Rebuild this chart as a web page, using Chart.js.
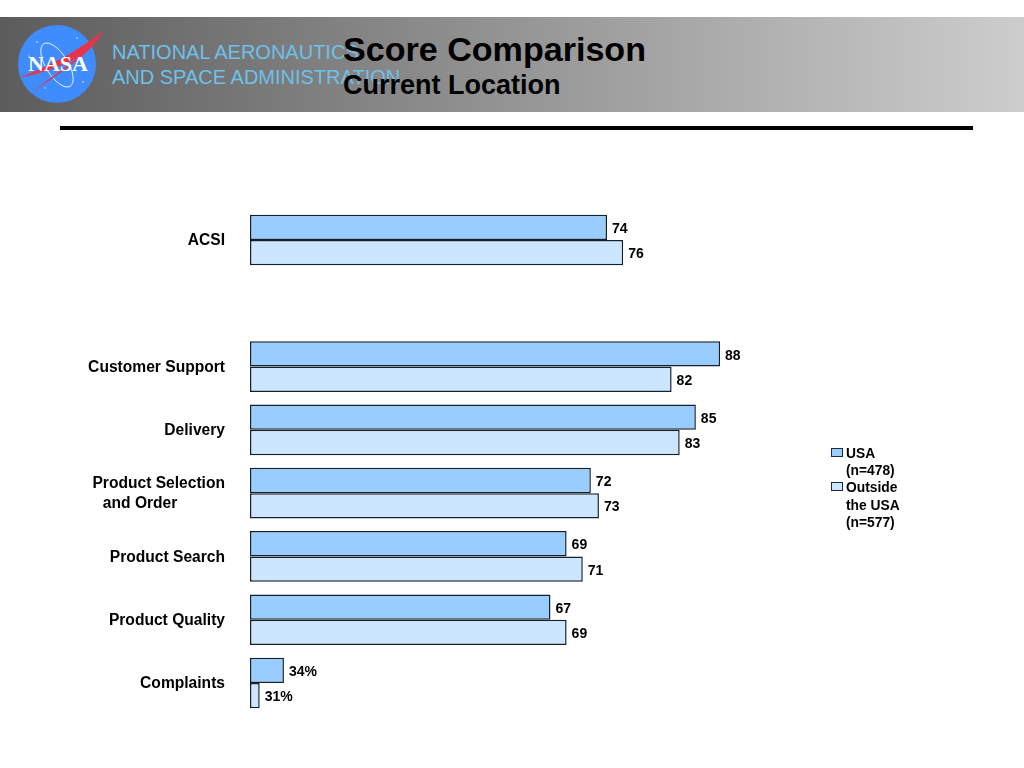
<!DOCTYPE html>
<html>
<head>
<meta charset="utf-8">
<title>Score Comparison</title>
<script src="https://cdn.jsdelivr.net/npm/chart.js@4/dist/chart.umd.min.js"></script>
<style>
  html, body { margin: 0; padding: 0; background: #fff; }
  body { width: 1024px; height: 768px; overflow: hidden; position: relative; font-family: "Liberation Sans", Arial, sans-serif; }
  #myChart { position: absolute; left: 0; top: 0; }
  .band { position: absolute; left: 0; top: 17px; width: 1024px; height: 95px; background: linear-gradient(to right, #5c5c5c 0%, #cdcdcd 100%); }
  .rule { position: absolute; left: 60px; top: 126px; width: 913px; height: 4px; background: #000; }
  .logo { position: absolute; left: 15px; top: 22px; }
  .org { position: absolute; left: 112px; color: #6fc0ea; font-size: 20px; line-height: 24px; white-space: nowrap; }
  .title { position: absolute; left: 343px; font-weight: bold; color: #000; white-space: nowrap; }
  .legend { position: absolute; left: 831px; top: 445px; font-size: 13.8px; font-weight: bold; line-height: 17.2px; color: #000; }
  .legend div { position: relative; padding-left: 15px; }
  .legend i { position: absolute; left: 0; top: 2.5px; width: 10px; height: 7.5px; border: 1px solid #1c2b3a; }
</style>
</head>
<body>
<div class="band"></div>
<svg class="logo" width="90" height="84" viewBox="0 0 90 84">
  <circle cx="42" cy="42" r="39" fill="#3f8cff"/>
  <ellipse cx="42" cy="43" rx="11" ry="25" transform="rotate(-32 42 43)" fill="none" stroke="#fff" stroke-width="0.8"/>
  <path d="M3 56 C30 46 62 30 88 9 C78 30 50 48 16 71 C32 58 50 46 62 36 C45 45 25 52 3 56 Z" fill="#e8334a"/>
  <text x="43" y="49" text-anchor="middle" font-family="Liberation Serif" font-weight="bold" font-size="21" fill="#fff" textLength="60" lengthAdjust="spacingAndGlyphs">NASA</text>
  <g fill="#fff"><circle cx="22" cy="20" r="0.7"/><circle cx="62" cy="16" r="0.7"/><circle cx="68" cy="60" r="0.7"/><circle cx="30" cy="66" r="0.7"/><circle cx="14" cy="34" r="0.6"/></g>
</svg>
<div class="org" style="top:40px">NATIONAL AERONAUTICS</div>
<div class="org" style="top:65px">AND SPACE ADMINISTRATION</div>
<div class="title" style="top:29px;font-size:34.1px;line-height:40px">Score Comparison</div>
<div class="title" style="top:69px;font-size:27px;line-height:32px">Current Location</div>
<div class="rule"></div>
<canvas id="myChart" width="1024" height="768"></canvas>
<div class="legend" id="legend"></div>

<script>
const categories = ["ACSI", "", "Customer Support", "Delivery", ["Product Selection", "and Order           "], "Product Search", "Product Quality", "Complaints"];
const usaValues = [74, null, 88, 85, 72, 69, 67, 34];
const outsideValues = [76, null, 82, 83, 73, 71, 69, 31];
const percentRows = [7];
const seriesNames = ["USA (n=478)", "Outside the USA (n=577)"];
const legendLines = [["USA", "(n=478)"], ["Outside", "the USA", "(n=577)"]];
const axisMin = 29.8;
const axisMax = 100;
const usaColor = "#99ccff";
const outsideColor = "#cce6ff";
const barBorder = "#14202c";

// value labels next to each bar
const barLabels = {
  id: "barLabels",
  afterDatasetsDraw(chart) {
    const ctx = chart.ctx;
    ctx.save();
    ctx.font = "bold 14px 'Liberation Sans'";
    ctx.fillStyle = "#000";
    ctx.textBaseline = "middle";
    chart.data.datasets.forEach((ds, i) => {
      chart.getDatasetMeta(i).data.forEach((bar, j) => {
        if (ds.data[j] == null) return;
        const text = ds.data[j] + (percentRows.includes(j) ? "%" : "");
        ctx.fillText(text, bar.x + 5, bar.y + 1.8);
      });
    });
    ctx.restore();
  },
};

new Chart(document.getElementById("myChart"), {
  type: "bar",
  data: {
    labels: categories,
    datasets: [
      { label: seriesNames[0], data: usaValues, base: axisMin, backgroundColor: usaColor, borderColor: barBorder, borderWidth: 1.5, borderSkipped: false, clip: false },
      { label: seriesNames[1], data: outsideValues, base: axisMin, backgroundColor: outsideColor, borderColor: barBorder, borderWidth: 1.5, borderSkipped: false, clip: false },
    ],
  },
  options: {
    indexAxis: "y",
    responsive: false,
    animation: false,
    categoryPercentage: 0.8,
    barPercentage: 1,
    layout: { padding: { top: 208.4, bottom: 53.4, left: 0, right: 207 } },
    plugins: { legend: { display: false }, title: { display: false }, tooltip: { enabled: false } },
    scales: {
      x: { display: false, min: axisMin, max: axisMax },
      y: {
        afterFit(axis) { axis.width = 250; },
        border: { display: false },
        grid: { display: false },
        ticks: {
          autoSkip: false,
          padding: 17,
          labelOffset: 1,
          color: "#000",
          font: { family: "Liberation Sans", weight: "bold", size: 15.6, lineHeight: 1.28 },
        },
      },
    },
  },
  plugins: [barLabels],
});

// legend text wraps over several lines, so it is built by hand
const legendBox = document.getElementById("legend");
legendLines.forEach((lines, i) => {
  const row = document.createElement("div");
  const swatch = document.createElement("i");
  swatch.style.background = i === 0 ? usaColor : outsideColor;
  row.appendChild(swatch);
  row.innerHTML += lines.join("<br>");
  legendBox.appendChild(row);
});
</script>
</body>
</html>
